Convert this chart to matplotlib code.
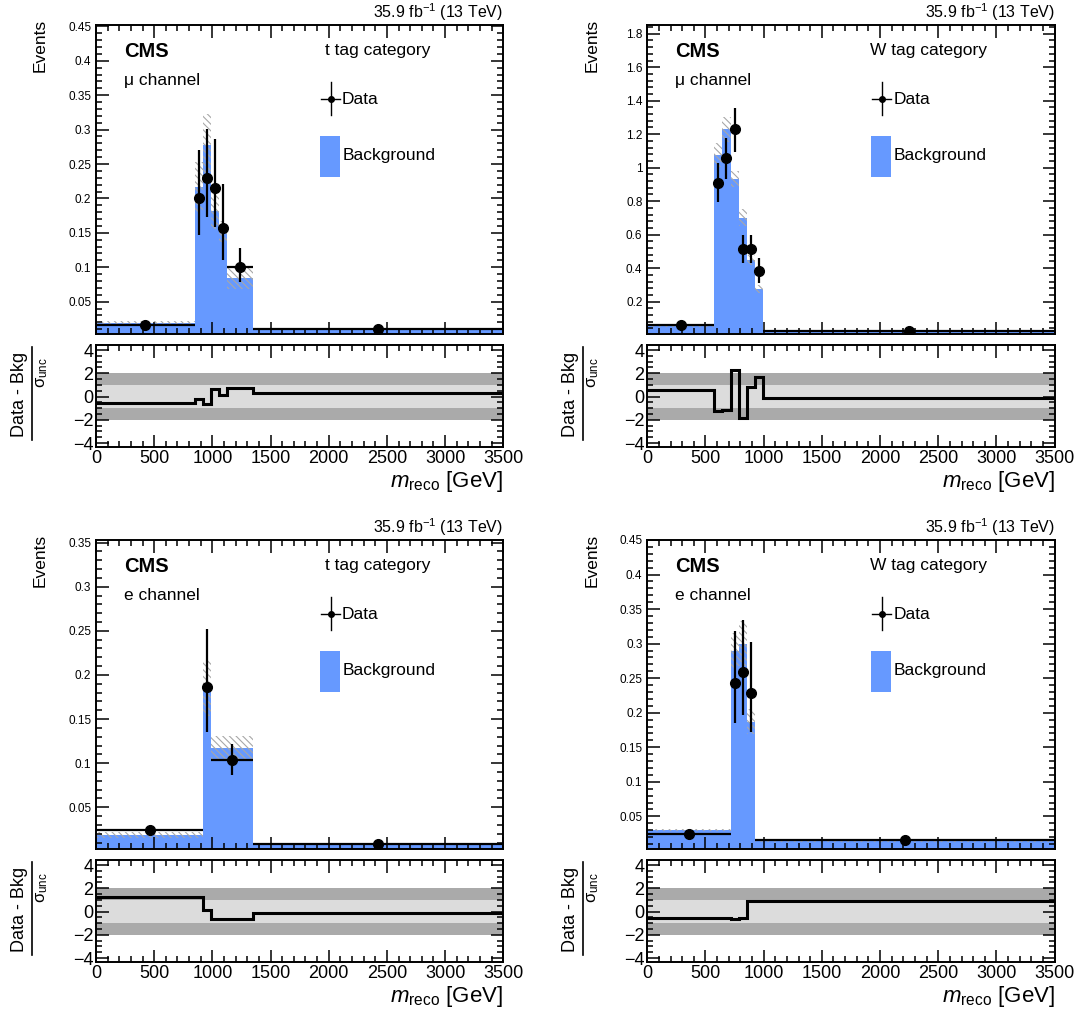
import numpy as np
import matplotlib
matplotlib.use('Agg')
import matplotlib.pyplot as plt
from matplotlib.ticker import MultipleLocator
from matplotlib.patches import Rectangle
from matplotlib.lines import Line2D

plt.rcParams['font.family'] = ['Liberation Sans', 'DejaVu Sans']
plt.rcParams['mathtext.fontset'] = 'custom'
plt.rcParams['mathtext.rm'] = 'Liberation Sans'
plt.rcParams['mathtext.it'] = 'Liberation Sans:italic'
plt.rcParams['hatch.linewidth'] = 0.8

BLUE = '#6699ff'

########## t tag, mu channel ##########
tmu_edges = [0, 850, 920, 990, 1060, 1130, 1345, 3500]
tmu_bkg = [0.0194, 0.2165, 0.277, 0.182, 0.152, 0.085, 0.0098]
tmu_unc = [0.003, 0.037, 0.045, 0.027, 0.015, 0.016, 0.001]
tmu_data = [0.016, 0.2005, 0.2297, 0.215, 0.1577, 0.101, 0.0105]
tmu_up = [0.003, 0.070, 0.071, 0.071, 0.063, 0.027, 0.002]
tmu_down = [0.003, 0.054, 0.057, 0.056, 0.047, 0.023, 0.002]
tmu_pull = [-0.58, -0.22, -0.66, 0.63, 0.11, 0.77, 0.30]

########## W tag, mu channel ##########
wmu_edges = [0, 575, 645, 715, 785, 855, 925, 995, 3500]
wmu_bkg = [0.055, 1.076, 1.229, 0.933, 0.701, 0.449, 0.274, 0.026]
wmu_unc = [0.005, 0.07, 0.075, 0.05, 0.05, 0.03, 0.025, 0.002]
wmu_data = [0.061, 0.911, 1.056, 1.229, 0.515, 0.515, 0.383, 0.025]
wmu_up = [0.012, 0.115, 0.119, 0.126, 0.083, 0.083, 0.076, 0.003]
wmu_down = [0.010, 0.114, 0.123, 0.133, 0.086, 0.086, 0.073, 0.003]
wmu_pull = [0.60, -1.26, -1.18, 2.30, -1.81, 0.82, 1.70, -0.16]

########## t tag, e channel ##########
tel_edges = [0, 920, 990, 1345, 3500]
tel_bkg = [0.0186, 0.185, 0.117, 0.009]
tel_unc = [0.003, 0.032, 0.014, 0.001]
tel_data = [0.0243, 0.186, 0.1033, 0.0085]
tel_up = [0.004, 0.066, 0.018, 0.002]
tel_down = [0.004, 0.051, 0.017, 0.002]
tel_pull = [1.29, 0.14, -0.60, -0.16]

########## W tag, e channel ##########
wel_edges = [0, 715, 785, 855, 925, 3500]
wel_bkg = [0.0302, 0.290, 0.300, 0.187, 0.0145]
wel_unc = [0.002, 0.025, 0.033, 0.018, 0.001]
wel_data = [0.0244, 0.243, 0.259, 0.229, 0.0158]
wel_up = [0.004, 0.075, 0.075, 0.073, 0.002]
wel_down = [0.004, 0.058, 0.062, 0.057, 0.002]
wel_pull = [-0.52, -0.63, -0.58, 0.88, 0.93]

panels = [
    # (edges, bkg, unc, data, up, down, pull, ylim, ymajor, yminor, channel, category, cat_x, col, row)
    (tmu_edges, tmu_bkg, tmu_unc, tmu_data, tmu_up, tmu_down, tmu_pull,
     (0.003, 0.452), 0.05, 0.01, 'μ channel', 't tag category', 0.563, 0, 0),
    (wmu_edges, wmu_bkg, wmu_unc, wmu_data, wmu_up, wmu_down, wmu_pull,
     (0.007, 1.852), 0.2, 0.04, 'μ channel', 'W tag category', 0.547, 1, 0),
    (tel_edges, tel_bkg, tel_unc, tel_data, tel_up, tel_down, tel_pull,
     (0.0027, 0.353), 0.05, 0.01, 'e channel', 't tag category', 0.563, 0, 1),
    (wel_edges, wel_bkg, wel_unc, wel_data, wel_up, wel_down, wel_pull,
     (0.0027, 0.45), 0.05, 0.01, 'e channel', 'W tag category', 0.547, 1, 1),
]

W, H = 1081, 1016
fig = plt.figure(figsize=(W / 100, H / 100), dpi=100)

col_x = [96, 647.3]
col_w = 407.3
row_off = [0, 515]


def px_axes(x0, y_top, w, h):
    return fig.add_axes([x0 / W, 1 - (y_top + h) / H, w / W, h / H])


def style_ticks(ax):
    ax.tick_params(which='both', direction='in', top=True, right=True, width=1.1)
    ax.tick_params(which='major', length=9)
    ax.tick_params(which='minor', length=4.5)
    for s in ax.spines.values():
        s.set_linewidth(1.4)


for edges, bkg, unc, data, up, down, pull, ylim, ymaj, ymin_, chan, cat, cat_x, col, row in panels:
    edges = np.array(edges, dtype=float)
    bkg = np.array(bkg)
    unc = np.array(unc)
    centers = 0.5 * (edges[1:] + edges[:-1])
    halfw = 0.5 * np.diff(edges)

    ax = px_axes(col_x[col], 25 + row_off[row], col_w, 309)
    rx = px_axes(col_x[col], 345 + row_off[row], col_w, 102)

    # background histogram with hatched uncertainty band
    ax.stairs(bkg, edges, fill=True, color=BLUE, lw=0)
    ax.bar(centers, 2 * unc, width=np.diff(edges), bottom=bkg - unc, fill=False,
           hatch='\\\\\\\\\\', edgecolor='#a8a8a8', linewidth=0)
    ax.errorbar(centers, data, xerr=halfw, yerr=[down, up], fmt='o', color='k',
                ms=7, elinewidth=1.6, capsize=0)

    ax.set_xlim(0, 3500)
    ax.set_ylim(*ylim)
    ax.xaxis.set_major_locator(MultipleLocator(500))
    ax.xaxis.set_minor_locator(MultipleLocator(100))
    ax.yaxis.set_major_locator(MultipleLocator(ymaj))
    ax.yaxis.set_minor_locator(MultipleLocator(ymin_))
    style_ticks(ax)
    ax.tick_params(labelbottom=False)
    ax.tick_params(axis='y', labelsize=8.5)
    ax.yaxis.set_major_formatter(matplotlib.ticker.FuncFormatter(lambda v, p: ('%g' % round(v, 3))))
    ax.set_ylabel('Events', loc='top', fontsize=12.5)
    ax.yaxis.set_label_coords(-0.118, 1.02)

    ax.text(0.069, 0.913, 'CMS', transform=ax.transAxes, fontsize=14.5,
            fontweight='bold', va='center', ha='left')
    ax.text(0.069, 0.822, chan, transform=ax.transAxes, fontsize=12.5, va='center', ha='left')
    ax.text(cat_x, 0.919, cat, transform=ax.transAxes, fontsize=12.5, va='center', ha='left')
    ax.text(1.0, 1.008, r'35.9 fb$^{-1}$ (13 TeV)', transform=ax.transAxes,
            fontsize=11.5, va='bottom', ha='right')

    # legend
    ax.add_line(Line2D([0.576, 0.576], [0.709, 0.817], transform=ax.transAxes, color='k', lw=1))
    ax.add_line(Line2D([0.552, 0.598], [0.760, 0.760], transform=ax.transAxes, color='k', lw=1))
    ax.plot([0.576], [0.760], 'o', color='k', ms=4, transform=ax.transAxes)
    ax.text(0.604, 0.760, 'Data', transform=ax.transAxes, fontsize=12.5, va='center', ha='left')
    ax.add_patch(Rectangle((0.550, 0.507), 0.048, 0.134, transform=ax.transAxes,
                           facecolor=BLUE, edgecolor='none'))
    ax.text(0.606, 0.579, 'Background', transform=ax.transAxes, fontsize=12.5,
            va='center', ha='left')

    # pull panel
    rx.axhspan(-2, 2, color='#aaaaaa', lw=0)
    rx.axhspan(-1, 1, color='#dcdcdc', lw=0)
    rx.stairs(pull, edges, color='k', lw=2.2, baseline=None)
    rx.set_xlim(0, 3500)
    rx.set_ylim(-4.34, 4.43)
    rx.xaxis.set_major_locator(MultipleLocator(500))
    rx.xaxis.set_minor_locator(MultipleLocator(100))
    rx.yaxis.set_major_locator(MultipleLocator(2))
    rx.yaxis.set_minor_locator(MultipleLocator(0.5))
    style_ticks(rx)
    rx.tick_params(labelsize=13, pad=2)
    rx.set_xlabel(r'$m_{\mathrm{reco}}$ [GeV]', loc='right', fontsize=16)
    rx.xaxis.set_label_coords(1.0, -0.22)
    rx.xaxis.label.set_va('top')

    # y title of the pull panel, drawn as a fraction
    x0 = col_x[col] - 96
    yc = 394 + row_off[row]
    fig.text((x0 + 19) / W, 1 - yc / H, 'Data - Bkg', rotation=90, fontsize=13,
             ha='center', va='center')
    fig.add_artist(Line2D([(x0 + 31.5) / W] * 2, [1 - 347 / H - row_off[row] / H, 1 - 440 / H - row_off[row] / H],
                          color='k', lw=1.2, transform=fig.transFigure))
    fig.text((x0 + 42) / W, 1 - (373 + row_off[row]) / H, r'$\mathrm{\sigma}_{\mathrm{unc}}$',
             rotation=90, fontsize=12, ha='center', va='center')

plt.savefig('out.png', dpi=100)
